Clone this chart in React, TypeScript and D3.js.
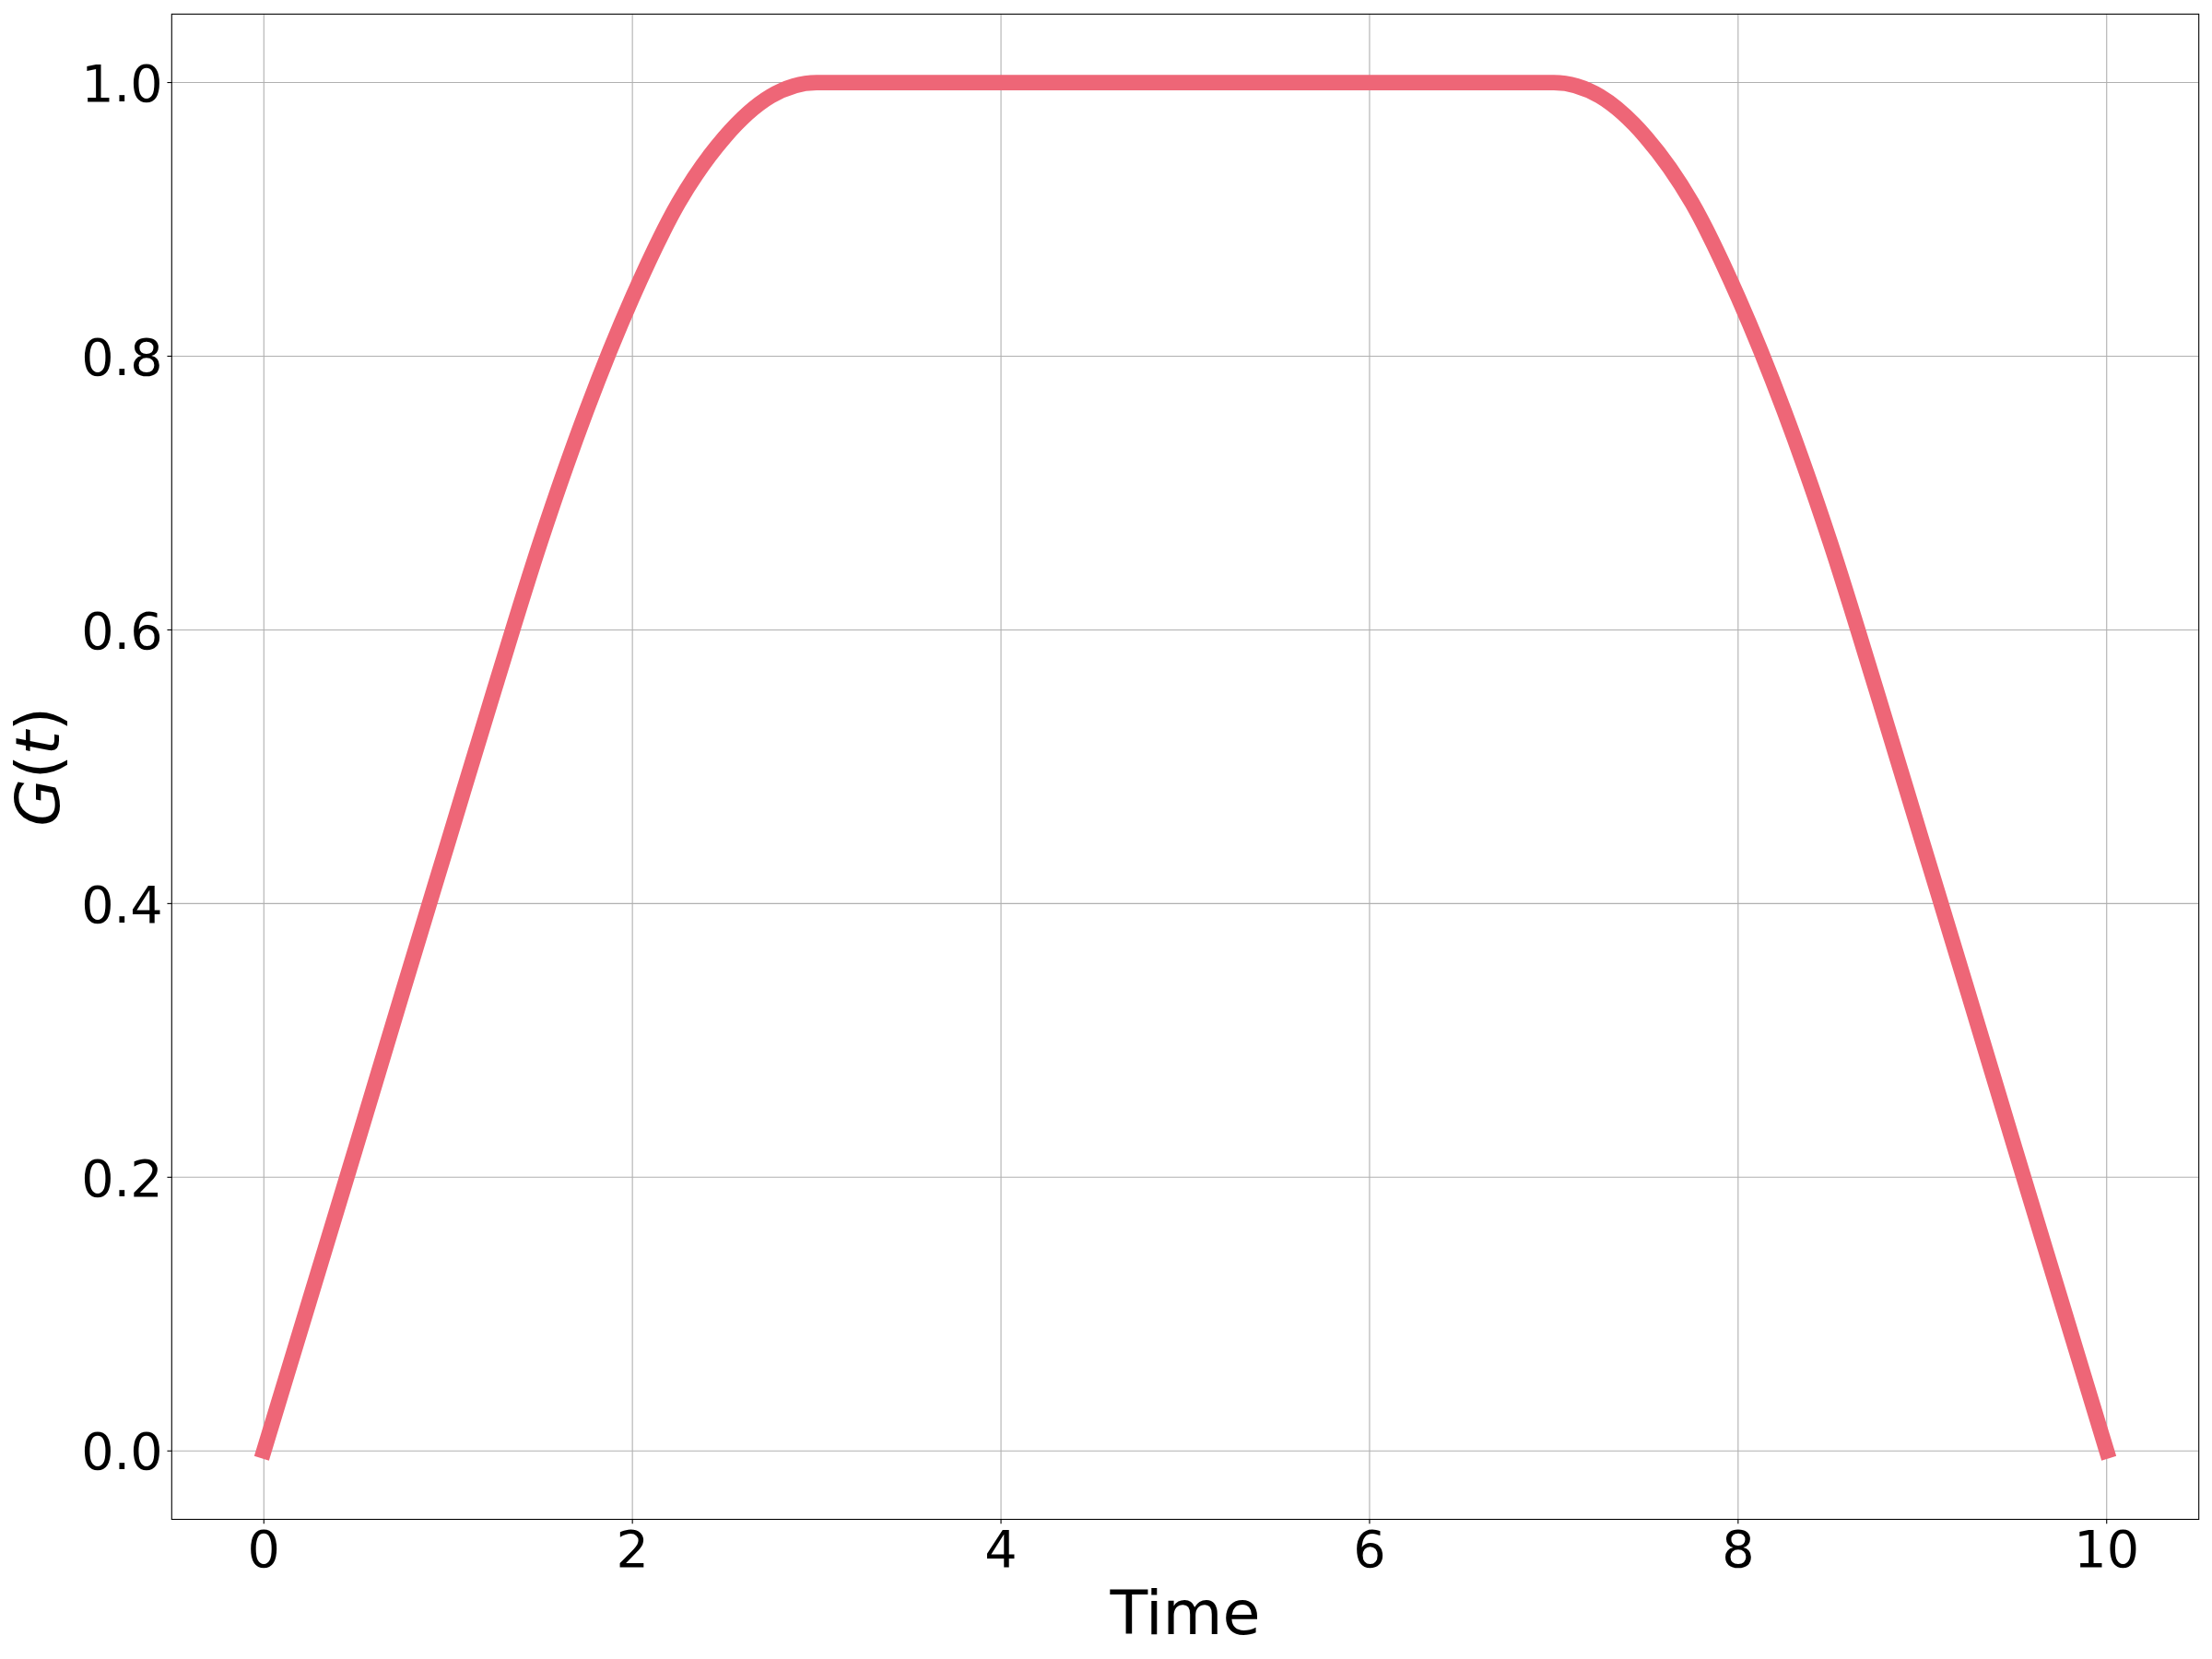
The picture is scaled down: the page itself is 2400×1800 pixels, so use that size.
import React from "react";
import * as d3 from "d3";

// Data
const timeUp = [0, 0.25, 0.5, 0.75, 1.0, 1.25, 1.5, 1.75, 2.0, 2.25, 2.5, 2.75, 3.0];
const gainUp = [0, 0.111, 0.222, 0.334, 0.445, 0.556, 0.664, 0.76, 0.843, 0.912, 0.96, 0.99, 1.0];
const timeFlat = [4, 5, 6];
const gainFlat = [1.0, 1.0, 1.0];
const timeDown = [7.0, 7.25, 7.5, 7.75, 8.0, 8.25, 8.5, 8.75, 9.0, 9.25, 9.5, 9.75, 10.0];
const gainDown = [1.0, 0.99, 0.96, 0.912, 0.843, 0.76, 0.664, 0.556, 0.445, 0.334, 0.222, 0.111, 0];

const xTicks = [0, 2, 4, 6, 8, 10];
const yTicks = [0.0, 0.2, 0.4, 0.6, 0.8, 1.0];
const xLabel = "Time";

const W = 2400;
const H = 1800;
const plot = { left: 186.3, right: 2385.7, top: 15.3, bottom: 1648.5 };

export default function App() {
  const x = d3.scaleLinear().domain([-0.5, 10.5]).range([plot.left, plot.right]);
  const y = d3.scaleLinear().domain([-0.05, 1.05]).range([plot.bottom, plot.top]);

  const pts: [number, number][] = [
    ...timeUp.map((t, i) => [t, gainUp[i]] as [number, number]),
    ...timeFlat.map((t, i) => [t, gainFlat[i]] as [number, number]),
    ...timeDown.map((t, i) => [t, gainDown[i]] as [number, number]),
  ];
  const line = d3
    .line<[number, number]>()
    .x((d) => x(d[0]))
    .y((d) => y(d[1]))
    .curve(d3.curveMonotoneX);

  const font = "DejaVu Sans";
  const tickFs = 55.6;
  const labelFs = 66.7;
  const tickLen = 4.86;
  const gridColor = "#b0b0b0";

  return (
    <svg
      width={W}
      height={H}
      viewBox={`0 0 ${W} ${H}`}
      style={{ position: "absolute", left: 0, top: 0, display: "block", background: "#fff" }}
    >
      <rect x={0} y={0} width={W} height={H} fill="#fff" />
      {/* grid */}
      <g>
        {xTicks.map((t) => (
          <line key={"gx" + t} x1={x(t)} x2={x(t)} y1={plot.top} y2={plot.bottom} stroke={gridColor} strokeWidth={1.1} />
        ))}
        {yTicks.map((v) => (
          <line key={"gy" + v} x1={plot.left} x2={plot.right} y1={y(v)} y2={y(v)} stroke={gridColor} strokeWidth={1.1} />
        ))}
      </g>
      {/* data line */}
      <path
        d={line(pts) || ""}
        fill="none"
        stroke="#EE6677"
        strokeWidth={16.7}
        strokeLinecap="square"
        strokeLinejoin="round"
      />
      {/* spines */}
      <rect
        x={plot.left}
        y={plot.top}
        width={plot.right - plot.left}
        height={plot.bottom - plot.top}
        fill="none"
        stroke="#000"
        strokeWidth={1.1}
      />
      {/* x ticks */}
      <g fontFamily={font} fontSize={tickFs} fill="#000">
        {xTicks.map((t) => (
          <g key={"xt" + t}>
            <line x1={x(t)} x2={x(t)} y1={plot.bottom} y2={plot.bottom + tickLen} stroke="#000" strokeWidth={1.1} />
            <text x={x(t)} y={1700} textAnchor="middle">
              {String(t)}
            </text>
          </g>
        ))}
      </g>
      {/* y ticks */}
      <g fontFamily={font} fontSize={tickFs} fill="#000">
        {yTicks.map((v) => (
          <g key={"yt" + v}>
            <line x1={plot.left - tickLen} x2={plot.left} y1={y(v)} y2={y(v)} stroke="#000" strokeWidth={1.1} />
            <text x={plot.left - tickLen - 4.86} y={y(v) + 20.2} textAnchor="end">
              {v.toFixed(1)}
            </text>
          </g>
        ))}
      </g>
      {/* axis labels */}
      <text
        x={(plot.left + plot.right) / 2}
        y={1773}
        textAnchor="middle"
        fontFamily={font}
        fontSize={labelFs}
        fill="#000"
      >
        {xLabel}
      </text>
      <text
        transform={`translate(64, ${(plot.top + plot.bottom) / 2}) rotate(-90)`}
        textAnchor="middle"
        fontFamily={font}
        fontSize={labelFs}
        fill="#000"
      >
        <tspan fontStyle="italic">G</tspan>
        <tspan>(</tspan>
        <tspan fontStyle="italic">t</tspan>
        <tspan>)</tspan>
      </text>
    </svg>
  );
}
